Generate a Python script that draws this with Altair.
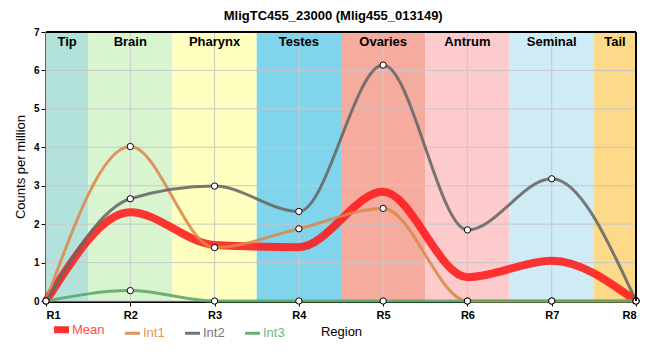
import altair as alt
import pandas as pd

# ---- data ----
regions = ["R1", "R2", "R3", "R4", "R5", "R6", "R7", "R8"]
region_pos = [1, 2, 3, 4, 5, 6, 7, 8]
mean_vals = [0, 2.31, 1.46, 1.40, 2.84, 0.62, 1.05, 0]
int1_vals = [0, 4.02, 1.39, 1.88, 2.41, 0, 0, 0]
int2_vals = [0, 2.66, 2.99, 2.33, 6.14, 1.85, 3.18, 0]
int3_vals = [0, 0.27, 0, 0, 0, 0, 0, 0]

series_names = ["Mean", "Int1", "Int2", "Int3"]
series_colors = ["#ff1a1a", "#d98a4a", "#666666", "#5aa864"]
label_colors = ["#ff4d4d", "#e0985a", "#777777", "#6fb87a"]

band_names = ["Tip", "Brain", "Pharynx", "Testes", "Ovaries", "Antrum", "Seminal", "Tail"]
band_start = [1, 1.5, 2.5, 3.5, 4.5, 5.5, 6.5, 7.5]
band_end = [1.5, 2.5, 3.5, 4.5, 5.5, 6.5, 7.5, 8]
band_colors = ["#b3e2dd", "#d9f5d0", "#ffffbf", "#80d4ec", "#f5ab9e", "#fecbcc", "#cfebf5", "#fdd98a"]

y_ticks = [0, 1, 2, 3, 4, 5, 6, 7]
y_max = 7
x_max = 8

rows = []
for name, vals in zip(series_names, [mean_vals, int1_vals, int2_vals, int3_vals]):
    for p, r, v in zip(region_pos, regions, vals):
        rows.append({"series": name, "pos": p, "region": r, "value": v})
df = pd.DataFrame(rows)
bands = pd.DataFrame({"name": band_names, "start": band_start, "end": band_end})
xgrid = pd.DataFrame({"x": region_pos})
ygrid = pd.DataFrame({"y": y_ticks})

label_expr = "[" + ",".join("'%s'" % r for r in regions) + "][datum.value - 1]"
names_js = "[" + ",".join("'%s'" % s for s in series_names) + "]"
lcol_js = "[" + ",".join("'%s'" % c for c in label_colors) + "]"
legend_label_color = lcol_js + "[indexof(" + names_js + ", datum.value)]"

xscale = alt.Scale(domain=[1, 8], nice=False, zero=False)
yscale = alt.Scale(domain=[0, 7], nice=False)

x_axis = alt.Axis(values=region_pos, labelExpr=label_expr, title="Region",
                  labelFontSize=11, labelPadding=3, titlePadding=5)
y_axis = alt.Axis(values=y_ticks, title="Counts per million",
                  labelFontSize=10, labelPadding=2, titlePadding=6)

X = alt.X("pos:Q", scale=xscale, axis=x_axis)
Y = alt.Y("value:Q", scale=yscale, axis=y_axis)

band_layer = alt.Chart(bands).mark_rect().encode(
    x=alt.X("start:Q", scale=xscale, axis=x_axis),
    x2="end:Q",
    fill=alt.Fill("name:N", scale=alt.Scale(domain=band_names, range=band_colors), legend=None),
)

vgrid = alt.Chart(xgrid).mark_rule(color="#c8c8c8", strokeWidth=1).encode(
    x=alt.X("x:Q", scale=xscale, axis=x_axis))
hgrid = alt.Chart(ygrid).mark_rule(color="#c8c8c8", strokeWidth=1).encode(
    y=alt.Y("y:Q", scale=yscale, axis=y_axis))

band_text = alt.Chart(bands).transform_calculate(
    mid="(datum.start + datum.end) / 2"
).mark_text(fontWeight="bold", fontSize=13, baseline="top", dy=4, color="black").encode(
    x=alt.X("mid:Q", scale=xscale, axis=x_axis),
    y=alt.YDatum(y_max, scale=yscale, axis=y_axis),
    text="name:N",
)

legend = alt.Legend(
    title=None, orient="none", legendX=9, legendY=291, direction="horizontal",
    symbolType="stroke", symbolSize=225, labelFontSize=13, labelFontWeight="normal",
    columnPadding=14, labelOffset=4,
    labelColor=alt.ExprRef(expr=legend_label_color),
    symbolStrokeWidth=alt.ExprRef(expr="datum.value === 'Mean' ? 7 : 3"),
    symbolOpacity=0.9,
)
color = alt.Color("series:N", scale=alt.Scale(domain=series_names, range=series_colors), legend=legend)

mean_line = alt.Chart(df).transform_filter("datum.series === 'Mean'").mark_line(
    interpolate="monotone", strokeWidth=8, opacity=0.88).encode(x=X, y=Y, color=color)

int_lines = alt.Chart(df).transform_filter("datum.series !== 'Mean'").mark_line(
    interpolate="monotone", strokeWidth=3, opacity=0.88).encode(x=X, y=Y, color=color, detail="series:N")

points = alt.Chart(df).transform_filter("datum.series !== 'Mean'").mark_point(
    filled=True, fill="white", stroke="black", strokeWidth=1, size=40, opacity=1).encode(x=X, y=Y)

top_rule = alt.Chart(ygrid).mark_rule(color="black", strokeWidth=2).encode(
    y=alt.YDatum(y_max, scale=yscale, axis=y_axis))
right_rule = alt.Chart(xgrid).mark_rule(color="black", strokeWidth=2).encode(
    x=alt.XDatum(x_max, scale=xscale, axis=x_axis))

chart = alt.layer(
    band_layer, vgrid, hgrid, band_text, mean_line, int_lines, points, top_rule, right_rule
).properties(
    width=644, height=344,
    autosize=alt.AutoSizeParams(type="fit", contains="padding"),
    padding={"left": 6, "top": 2, "right": 0, "bottom": 14},
    title=alt.Title("MligTC455_23000 (Mlig455_013149)", fontSize=13, fontWeight="bold",
                    anchor="middle", frame="bounds", offset=4, color="black"),
).configure(font="Liberation Sans").configure_view(strokeWidth=0).configure_axis(
    grid=False, domainColor="black", domainWidth=3, tickColor="black", tickSize=5,
    labelFontWeight="bold", labelColor="black", labelOverlap=False,
    titleFontWeight="normal", titleFontSize=13, titleColor="black", zindex=1,
)

chart.save("out.html", embed_options={"renderer": "svg", "actions": False})
